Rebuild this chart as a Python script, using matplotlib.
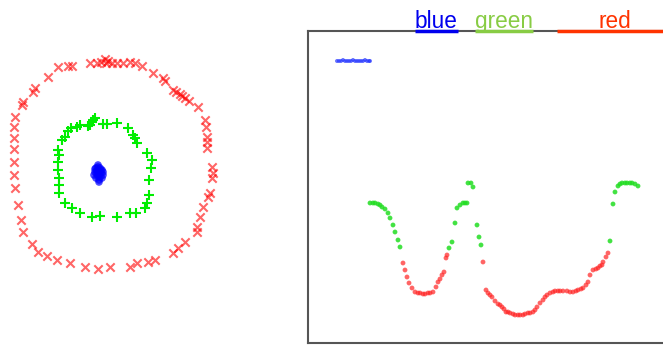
import matplotlib
matplotlib.use("Agg")
import matplotlib.pyplot as plt
import numpy as np

plt.rcParams['font.family'] = ['Liberation Sans', 'DejaVu Sans']

# ---- left panel data (pixel-like coordinates) ----
red_x = [58, 68, 72, 48, 90, 97, 105, 106, 112, 117, 123, 130, 135, 142, 153, 163, 165, 173, 182, 185,
         189, 198, 205, 206, 207, 207, 207, 212, 213, 212, 210, 208, 203, 200, 197, 197, 185, 178, 173,
         155, 148, 137, 130, 110, 98, 85, 70, 57, 47, 38, 32, 23, 21, 18, 15, 14, 14, 14, 14, 14, 15,
         22, 23, 33, 35, 101, 108, 180, 176]
red_y = [67, 66, 66, 77, 63, 63, 59, 63, 63, 63, 63, 62, 63, 66, 73, 78, 81, 90, 96, 98,
         101, 107, 120, 127, 137, 142, 148, 167, 173, 178, 193, 197, 207, 217, 227, 232, 242, 248, 253,
         260, 262, 263, 267, 267, 269, 267, 263, 260, 256, 252, 244, 232, 220, 205, 188, 175, 162, 149, 138, 127, 117,
         105, 102, 92, 88, 62, 61, 94, 92]

green_x = [58, 59, 58, 59, 59, 59, 65, 72, 80, 92, 100, 117, 130, 136, 145, 147, 149, 149, 151, 152,
           147, 137, 135, 133, 128, 117, 107, 103, 95, 93, 92, 90, 88, 80, 77, 71, 68, 65, 62, 58]
green_y = [150, 155, 162, 178, 185, 193, 203, 208, 213, 217, 216, 217, 213, 213, 208, 203, 195, 180, 168, 160,
           153, 143, 138, 135, 128, 123, 124, 124, 118, 120, 122, 125, 126, 125, 127, 128, 131, 137, 140, 170]

blue_x = [96, 98, 100, 102, 97, 99, 101, 95, 94, 103, 98, 100, 96, 102, 99, 97, 101, 95, 103, 98, 99]
blue_y = [168, 167, 168, 170, 171, 172, 173, 172, 175, 175, 176, 177, 178, 178, 180, 174, 170, 169, 172, 165, 182]

# ---- right panel data (pixel-like coordinates) ----
rb_x = [337, 339, 341, 343, 345, 347, 349, 351, 353, 355, 357, 359, 361, 363, 365, 367, 369, 370]
rb_y = [61, 61, 61, 60, 61, 61, 61, 61, 60, 61, 61, 61, 61, 61, 60, 61, 61, 61]

rg_x = [370, 373, 375, 378, 380, 382, 385, 388, 390, 393, 395, 398, 400,
        449, 452, 455, 457, 460, 463, 465, 467, 468, 471, 473, 477, 479, 481,
        610, 613, 615, 618, 620, 622, 625, 627, 630, 632, 635, 638]
rg_y = [203, 203, 203, 204, 205, 207, 209, 213, 218, 225, 232, 240, 247,
        248, 242, 223, 208, 205, 203, 203, 203, 183, 183, 187, 225, 237, 245,
        241, 204, 192, 186, 184, 183, 183, 183, 183, 183, 184, 186]

rr_x = [403, 405, 407, 409, 412, 415, 418, 420, 423, 425, 428, 430, 433, 436, 438, 440, 442, 444, 446, 447,
        483, 486, 488, 490, 492, 495, 498, 500, 502, 504, 506, 508, 510, 513, 515, 518, 520, 523, 525, 528,
        530, 533, 535, 537, 540, 543, 545, 547, 550, 553, 555, 558, 560, 563, 567, 570, 573, 576, 578, 581,
        583, 586, 588, 590, 593, 596, 598, 600, 602, 603, 606, 608]
rr_y = [263, 270, 277, 283, 288, 292, 293, 293, 294, 294, 293, 293, 292, 287, 282, 279, 275, 272, 258, 255,
        262, 290, 293, 295, 297, 301, 304, 305, 307, 309, 312, 312, 313, 314, 315, 315, 315, 315, 314, 313,
        313, 312, 310, 307, 303, 300, 297, 295, 293, 292, 291, 291, 291, 291, 291, 292, 292, 291, 290, 289,
        288, 285, 282, 275, 270, 269, 268, 266, 265, 262, 257, 253]

legend_labels = ["blue", "green", "red"]
legend_colors = ["#0000ee", "#88cc44", "#ff3300"]

W, H = 663, 345
fig = plt.figure(figsize=(W / 100, H / 100), dpi=100)

# left panel
axl = fig.add_axes([0, 0, 300 / W, 1])
axl.set_xlim(0, 300)
axl.set_ylim(H, 0)
axl.axis('off')
axl.scatter(red_x, red_y, marker='x', s=36, c='#ff0000', alpha=0.6, linewidths=1.5)
axl.scatter(green_x, green_y, marker='+', s=60, c='#00ee00', linewidths=1.5)
axl.scatter(blue_x, blue_y, marker='o', s=30, c='#0000ff', alpha=0.7, edgecolors='none')

# right panel
x0, x1, y0, y1 = 308, 680, 31, 343
axr = fig.add_axes([x0 / W, (H - y1) / H, (x1 - x0) / W, (y1 - y0) / H])
axr.set_xlim(x0, x1)
axr.set_ylim(y1, y0)
axr.set_xticks([])
axr.set_yticks([])
for sp in axr.spines.values():
    sp.set_color('#555555')
    sp.set_linewidth(1.5)
axr.scatter(rb_x, rb_y, s=8, c='#2233ff', alpha=0.7, edgecolors='none')
axr.scatter(rg_x, rg_y, s=12, c='#22dd22', alpha=0.85, edgecolors='none')
axr.scatter(rr_x, rr_y, s=12, c='#ff2222', alpha=0.7, edgecolors='none')

# colored legend labels with underlines over the top spine
label_spans = [(415, 458, 436), (475, 533, 504), (557, 663, 615)]
for (a, b, c), lab, col in zip(label_spans, legend_labels, legend_colors):
    axr.plot([a, b], [31, 31], color=col, lw=2.5, clip_on=False, solid_capstyle='butt', zorder=5)
    axr.text(c, 28, lab, color=col, fontsize=16.3, ha='center', va='baseline', clip_on=False)

fig.savefig("out.png", dpi=100)
